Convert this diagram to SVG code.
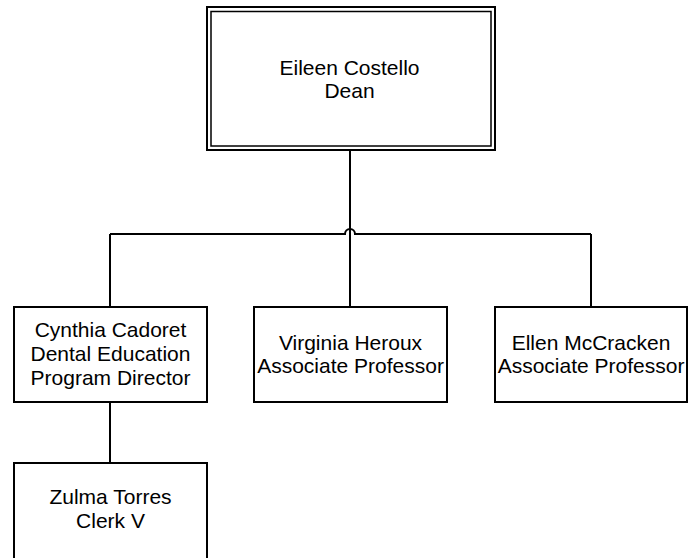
<svg xmlns="http://www.w3.org/2000/svg" width="688" height="558" viewBox="0 0 688 558">
<style>
.box{fill:#fff;stroke:#000;stroke-width:2}
.inner{fill:none;stroke:#000;stroke-width:1.5}
.t{font-family:"Liberation Sans",Arial,sans-serif;font-size:21px;fill:#000;text-anchor:middle}
.c{fill:none;stroke:#000;stroke-width:2}
</style>
<rect width="688" height="558" fill="#fff"/>
<g id="connectors">
<path class="c" d="M350 150 V307"/>
<path class="c" d="M110 234 H345 A5 5 0 0 1 355 234 H591"/>
<path class="c" d="M110 234 V307"/>
<path class="c" d="M591 234 V307"/>
<path class="c" d="M110 402 V463"/>
</g>
<g id="dean">
<rect class="box" x="207" y="7" width="288" height="143"/>
<rect class="inner" x="211" y="11.5" width="280" height="134.5"/>
<text class="t" x="349.5" y="75">Eileen Costello</text>
<text class="t" x="349.5" y="98">Dean</text>
</g>
<g id="cadoret">
<rect class="box" x="14" y="307" width="193" height="95"/>
<text class="t" x="110.5" y="337">Cynthia Cadoret</text>
<text class="t" x="110.5" y="361">Dental Education</text>
<text class="t" x="110.5" y="385">Program Director</text>
</g>
<g id="heroux">
<rect class="box" x="254" y="307" width="193" height="95"/>
<text class="t" x="350.5" y="350">Virginia Heroux</text>
<text class="t" x="350.5" y="373">Associate Professor</text>
</g>
<g id="mccracken">
<rect class="box" x="495" y="307" width="192" height="95"/>
<text class="t" x="591" y="350">Ellen McCracken</text>
<text class="t" x="591" y="373">Associate Professor</text>
</g>
<g id="torres">
<rect class="box" x="14" y="463" width="193" height="100"/>
<text class="t" x="110.5" y="504">Zulma Torres</text>
<text class="t" x="110.5" y="528">Clerk V</text>
</g>
</svg>
